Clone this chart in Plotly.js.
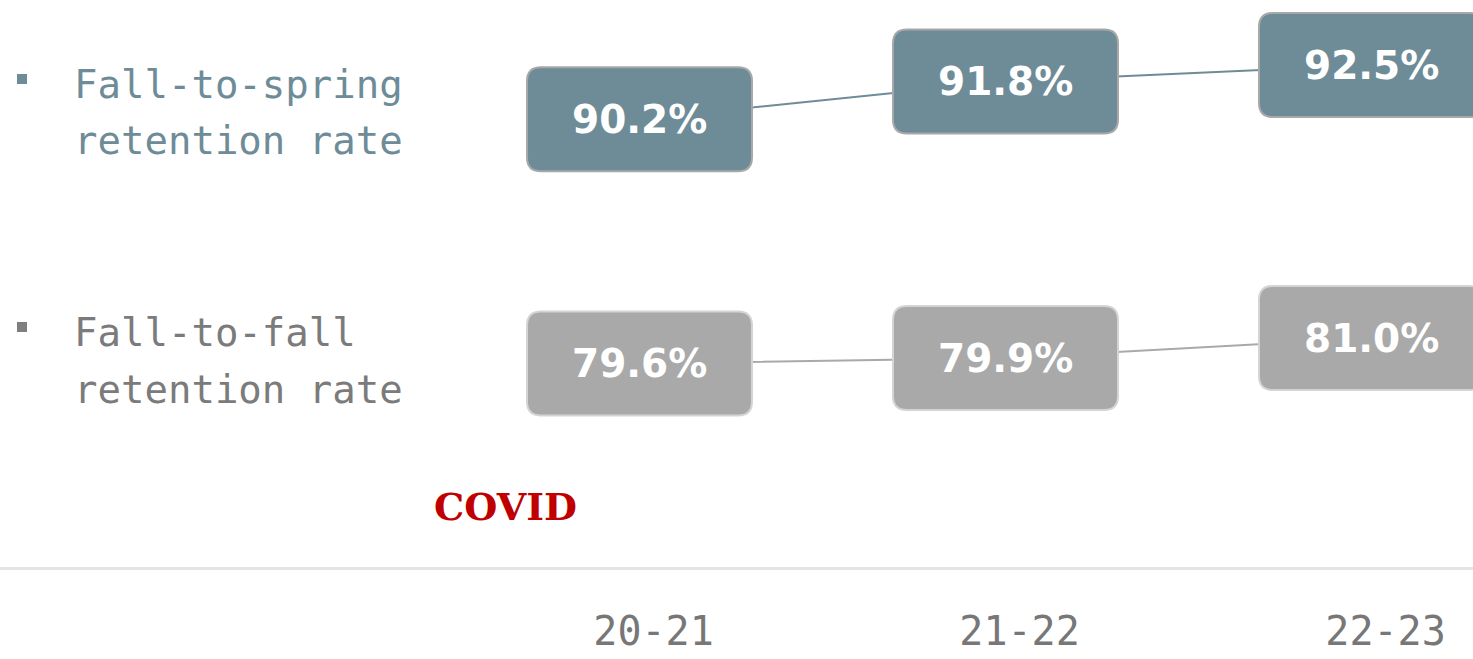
<!DOCTYPE html>
<html>
<head>
<meta charset="utf-8">
<script src="https://cdn.plot.ly/plotly-3.0.1.min.js"></script>
<style>html,body{margin:0;padding:0;background:#fff;}#chart{width:1473px;height:659px;}</style>
</head>
<body>
<div id="chart"></div>
<script>
// ---- data ----
const years = ["20-21", "21-22", "22-23"];
const fallToSpring = [90.2, 91.8, 92.5];
const fallToFall = [79.6, 79.9, 81.0];
const seriesNames = ["Fall-to-spring<br>retention rate", "Fall-to-fall<br>retention rate"];
const noteText = "COVID";

// ---- styles ----
const springColor = "#6e8c98";
const fallColor = "#a9a9a9";

const xIdx = years.map((_, i) => i);

const traces = [
  {x: xIdx, y: fallToSpring, type: "scatter", mode: "lines", yaxis: "y",
   line: {color: springColor, width: 2}, hoverinfo: "skip", showlegend: false},
  {x: xIdx, y: fallToFall, type: "scatter", mode: "lines", yaxis: "y2",
   line: {color: fallColor, width: 2}, hoverinfo: "skip", showlegend: false}
];

function roundRect(w, h, r) {
  const hw = w / 2, hh = h / 2;
  return `M ${-hw + r},${-hh} L ${hw - r},${-hh} Q ${hw},${-hh} ${hw},${-hh + r} ` +
         `L ${hw},${hh - r} Q ${hw},${hh} ${hw - r},${hh} L ${-hw + r},${hh} ` +
         `Q ${-hw},${hh} ${-hw},${hh - r} L ${-hw},${-hh + r} Q ${-hw},${-hh} ${-hw + r},${-hh} Z`;
}
const boxPath = roundRect(225, 104, 14);

const shapes = [];
const annotations = [];
function addBoxes(vals, yref, fill, border) {
  vals.forEach((v, i) => {
    shapes.push({type: "path", path: boxPath, xref: "x", yref: yref,
      xsizemode: "pixel", ysizemode: "pixel", xanchor: i, yanchor: v,
      fillcolor: fill, line: {color: border, width: 2}, layer: "above"});
    annotations.push({x: i, y: v, xref: "x", yref: yref, text: v.toFixed(1) + "%",
      showarrow: false, xanchor: "center", yanchor: "middle",
      font: {family: "DejaVu Sans", size: 39, color: "#ffffff", weight: "bold"}});
  });
}
addBoxes(fallToSpring, "y", springColor, "#a8a8a8");
addBoxes(fallToFall, "y2", fallColor, "#d4d4d4");

// legend squares
shapes.push({type: "rect", xref: "paper", yref: "paper", x0: 17/1473, x1: 27/1473,
  y0: 1 - 84/567, y1: 1 - 74/567, fillcolor: springColor, line: {width: 0}});
shapes.push({type: "rect", xref: "paper", yref: "paper", x0: 17/1473, x1: 27/1473,
  y0: 1 - 332/567, y1: 1 - 322/567, fillcolor: "#7f7f7f", line: {width: 0}});

// legend text, one annotation per line to match the original line spacing
const legendColors = [springColor, "#7b7b7b"];
const legendLineY = [[84, 141], [332, 389]];
seriesNames.forEach((name, s) => {
  name.split("<br>").forEach((line, k) => {
    annotations.push({xref: "paper", yref: "paper", x: 72/1473, y: 1 - legendLineY[s][k]/567,
      text: line, showarrow: false, xanchor: "left", yanchor: "middle", align: "left",
      font: {family: "DejaVu Sans Mono", size: 39, color: legendColors[s]}});
  });
});

annotations.push({xref: "paper", yref: "paper", x: 505/1473, y: 1 - 506/567, text: noteText,
  showarrow: false, xanchor: "center", yanchor: "middle",
  font: {family: "DejaVu Serif", size: 38, color: "#c00000", weight: "bold"}});

const layout = {
  width: 1473, height: 659,
  margin: {l: 0, r: 0, t: 0, b: 92},
  paper_bgcolor: "#ffffff", plot_bgcolor: "#ffffff",
  showlegend: false,
  xaxis: {range: [-639.5/366, (1473-639.5)/366], tickvals: xIdx, ticktext: years,
    showgrid: false, zeroline: false, showline: true, linecolor: "#e3e5e5", linewidth: 3,
    ticks: "", ticklabelshift: 14, ticklabelstandoff: 27,
    tickfont: {family: "DejaVu Sans Mono", size: 40, color: "#777777"}, fixedrange: true},
  yaxis: {range: [71.14, 95.27], visible: false, fixedrange: true},
  yaxis2: {range: [68.42, 99.57], overlaying: "y", visible: false, fixedrange: true},
  shapes: shapes,
  annotations: annotations
};

Plotly.newPlot("chart", traces, layout, {staticPlot: true, displayModeBar: false});
</script>
</body>
</html>
